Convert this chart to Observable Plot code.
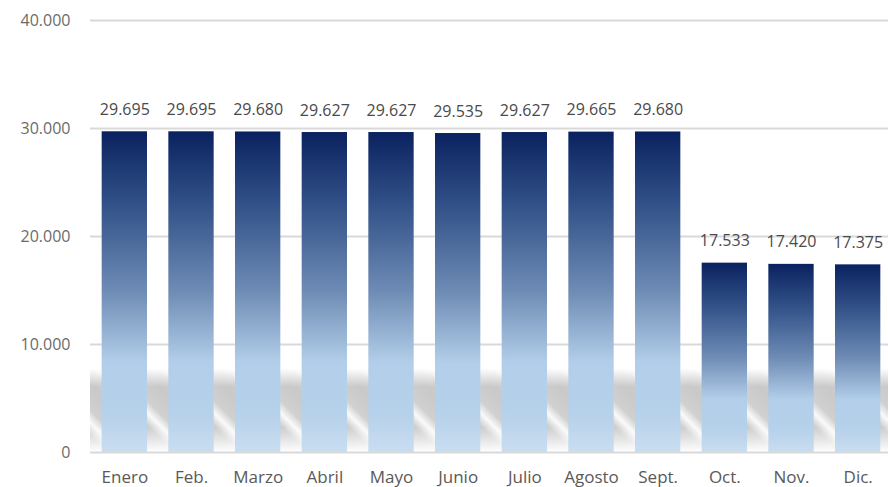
<!DOCTYPE html>
<html><head><meta charset="utf-8">
<script src="https://cdn.jsdelivr.net/npm/d3@7"></script>
<script src="https://cdn.jsdelivr.net/npm/@observablehq/plot@0.6"></script>
<style>
body{margin:0;background:#fff;}
#wrap{position:relative;width:888px;height:487px;overflow:hidden;}
#streak{position:absolute;left:90px;top:368px;width:798px;height:84px;
background: repeating-linear-gradient(45deg, #c9c9c9 0px, #cdcdcd 12px, #fafafa 21px, #d0d0d0 30px, #c9c9c9 47.14px);
-webkit-mask-image: linear-gradient(to bottom, transparent 0%, black 22%, black 70%, transparent 100%);
mask-image: linear-gradient(to bottom, transparent 0%, black 22%, black 70%, transparent 100%);}
#chart{position:absolute;left:0;top:0;}
</style>
</head><body>
<div id="wrap"><div id="streak"></div><div id="chart"></div></div>
<script>
const months = ["Enero","Feb.","Marzo","Abril","Mayo","Junio","Julio","Agosto","Sept.","Oct.","Nov.","Dic."];
const values = [29695,29695,29680,29627,29627,29535,29627,29665,29680,17533,17420,17375];
const yTicks = [0,10000,20000,30000,40000];

const data = months.map((m,i)=>({month:m, value:values[i]}));
const es = d3.formatLocale({decimal:",", thousands:".", grouping:[3], currency:["","€"]});
const fmt = es.format(",");

const defs = () => {
  const d = d3.create("svg:defs");
  const g = d.append("linearGradient").attr("id","barGrad").attr("x1",0).attr("y1",0).attr("x2",0).attr("y2",1);
  [[0,"#0a2260"],[0.25,"#36568c"],[0.5,"#6f8cb5"],[0.72,"#b2cee9"],[0.88,"#b6d1ea"],[1,"#c9ddf0"]]
    .forEach(([o,c])=>g.append("stop").attr("offset",o).attr("stop-color",c));
  return d.node();
};

const chart = Plot.plot({
  width: 888, height: 487,
  marginLeft: 90, marginRight: 0, marginTop: 20, marginBottom: 35,
  style: {background: "transparent", fontFamily: "'Open Sans', sans-serif"},
  x: {domain: months, range: [91, 891], paddingInner: 0.32, paddingOuter: 0.16, round: false, label: null},
  y: {domain: [0, 40000], label: null},
  marks: [
    defs,
    Plot.gridY(yTicks, {stroke: "#d9d9d9", strokeOpacity: 1, strokeWidth: 2}),
    Plot.axisY(yTicks, {tickSize: 0, tickPadding: 20, tickFormat: fmt, fontSize: 16, fill: "#6b6b6b", label: null}),
    Plot.axisX({tickSize: 0, tickPadding: 18, fontSize: 17, fill: "#595959", label: null}),
    Plot.barY(data, {x: "month", y: "value", fill: "url(#barGrad)"}),
    Plot.text(data, {x: "month", y: "value", text: d => fmt(d.value), dy: -22, fontSize: 16, fill: "#4a4a4a"})
  ]
});
document.getElementById("chart").appendChild(chart);
</script>
</body></html>
